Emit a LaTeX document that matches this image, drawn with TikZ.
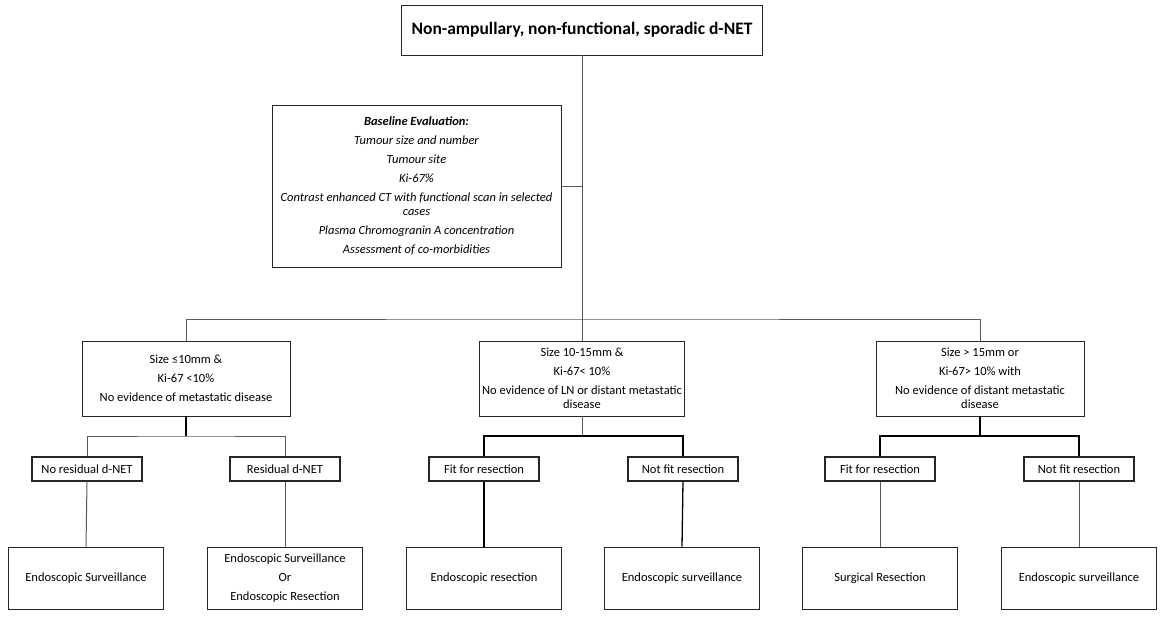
\documentclass[tikz,border=0pt]{standalone}
\usepackage{fontspec}
\setmainfont{Carlito}
\begin{document}
\begin{tikzpicture}[x=1pt,y=-1pt,
  box/.style={draw=black!85,line width=0.9pt,align=center,inner sep=2pt,
    font=\fontsize{12.5}{14}\selectfont},
  conn/.style={draw=black!65,line width=1pt},
  thk/.style={draw=black,line width=1.6pt}]
\useasboundingbox (0,0) rectangle (1161,619);
% top
\node[box,minimum width=361,minimum height=50,font=\fontsize{17.5}{20}\selectfont\bfseries] (top) at (582,30) {Non-ampullary, non-functional, sporadic d-NET};
\node[box,minimum width=289,minimum height=162] (base) at (416.5,186)
 {\itshape\textbf{Baseline Evaluation:}\\[5pt]
  \itshape Tumour size and number\\[5pt]
  \itshape Tumour site\\[5pt]
  \itshape Ki-67\%\\[5pt]
  \itshape Contrast enhanced CT with functional scan in selected\\
  \itshape cases\\[5pt]
  \itshape Plasma Chromogranin A concentration\\[5pt]
  \itshape Assessment of co-morbidities};
% row 1
\node[box,minimum width=208,minimum height=75] (L) at (186,378.5)
 {Size ≤10mm \&\\[5pt] Ki-67 <10\%\\[5pt] No evidence of metastatic disease};
\node[box,minimum width=205,minimum height=75] (M) at (582,378.5)
 {Size 10-15mm \&\\[5pt] Ki-67< 10\%\\[5pt] No evidence of LN or distant metastatic\\ disease};
\node[box,minimum width=208,minimum height=75] (R) at (980,378.5)
 {Size > 15mm or\\[5pt] Ki-67> 10\% with\\[5pt] No evidence of distant metastatic\\ disease};
% row 2
\node[box,line width=1.1pt,minimum width=110,minimum height=24] (ln) at (87,469) {No residual d-NET};
\node[box,line width=1.1pt,minimum width=110,minimum height=24] (lr) at (285,469) {Residual d-NET};
\node[box,line width=1.1pt,minimum width=110,minimum height=24] (mf) at (484,469) {Fit for resection};
\node[box,line width=1.1pt,minimum width=110,minimum height=24] (mn) at (683,469) {Not fit resection};
\node[box,line width=1.1pt,minimum width=110,minimum height=24] (rf) at (880,469) {Fit for resection};
\node[box,line width=1.1pt,minimum width=110,minimum height=24] (rn) at (1079,469) {Not fit resection};
% row 3
\node[box,minimum width=155,minimum height=62] (b1) at (86,578) {Endoscopic Surveillance};
\node[box,minimum width=155,minimum height=62] (b2) at (285,578) {Endoscopic Surveillance\\[5pt] Or\\[5pt] Endoscopic Resection};
\node[box,minimum width=155,minimum height=62] (b3) at (484,578) {Endoscopic resection};
\node[box,minimum width=155,minimum height=62] (b4) at (682,578) {Endoscopic surveillance};
\node[box,minimum width=155,minimum height=62] (b5) at (880,578) {Surgical Resection};
\node[box,minimum width=155,minimum height=62] (b6) at (1079,578) {Endoscopic surveillance};
% connectors
\coordinate (bar) at (582,319);
\draw[conn] (top.south) -- (M.north);
\draw[conn] (base.east) -- (base.east -| top.south);
\draw[conn] (L.north) |- (bar) -| (R.north);
\coordinate (lb) at (186,436);
\coordinate (mb) at (582,436);
\coordinate (rb) at (980,436);
\draw[thk] (L.south) -- (lb);
\draw[conn] (ln.north) |- (lb) -| (lr.north);
\draw[conn] (M.south) -- (mb);
\draw[thk,line width=1.2pt] (mf.north) |- (mb) -| (mn.north);
\draw[thk] (R.south) -- (rb);
\draw[thk,line width=1.2pt] (rf.north) |- (rb) -| (rn.north);
\draw[conn] (ln.south) -- (b1.north);
\draw[conn] (lr.south) -- (b2.north);
\draw[thk,line width=1.3pt] (mf.south) -- (b3.north);
\draw[thk,line width=1.3pt] (mn.south) -- (b4.north);
\draw[conn] (rf.south) -- (b5.north);
\draw[conn] (rn.south) -- (b6.north);
\end{tikzpicture}
\end{document}
